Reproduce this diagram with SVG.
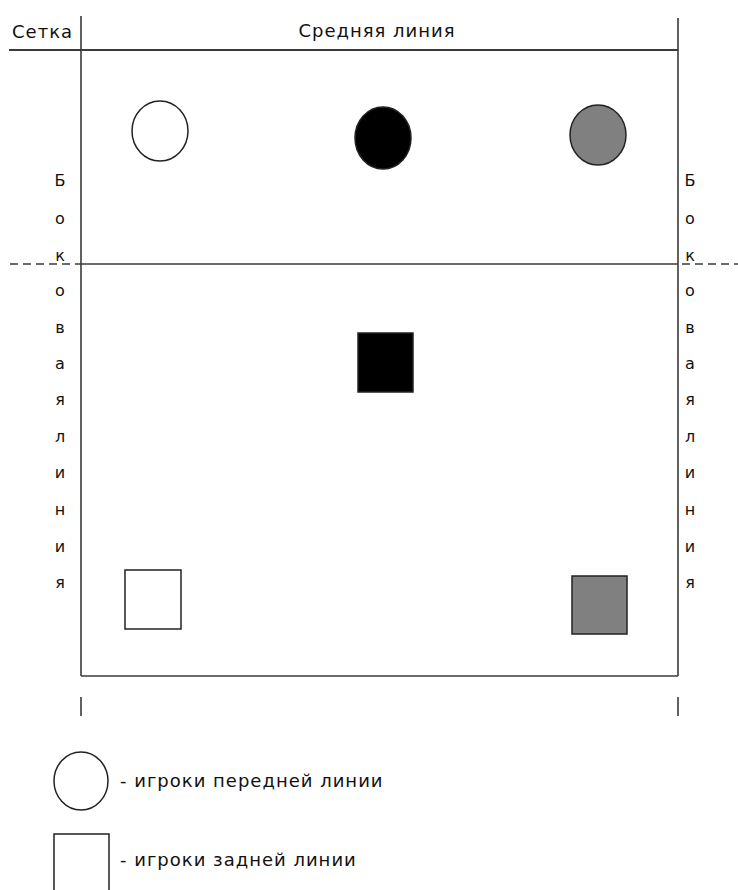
<svg xmlns="http://www.w3.org/2000/svg" width="738" height="890" viewBox="0 0 738 890">
<style>
.ln{stroke:#3a3a3a;stroke-width:1.6;fill:none}
.ds{stroke:#3a3a3a;stroke-width:1.6;stroke-dasharray:8 5;fill:none}
.t{font-family:"DejaVu Sans",sans-serif;font-size:18px;letter-spacing:1px;fill:#111}
.v{font-family:"DejaVu Sans",sans-serif;font-size:16px;fill:#111;text-anchor:middle}
.p{stroke:#222;stroke-width:1.5}
</style>
<rect width="738" height="890" fill="#fff"/>
<g id="court">
<line class="ln" x1="9" y1="50" x2="678" y2="50" style="stroke-width:2.2"/>
<line class="ln" x1="81" y1="16" x2="81" y2="676"/>
<line class="ln" x1="678" y1="18" x2="678" y2="676"/>
<line class="ln" x1="81" y1="676" x2="678" y2="676"/>
<line class="ln" x1="81" y1="264" x2="678" y2="264"/>
<line class="ds" x1="10" y1="264" x2="81" y2="264"/>
<line class="ds" x1="682" y1="264" x2="738" y2="264"/>
<line class="ln" x1="81" y1="697" x2="81" y2="716"/>
<line class="ln" x1="678" y1="697" x2="678" y2="716"/>
</g>
<g id="labels">
<text class="t" x="12" y="38">Сетка</text>
<text class="t" x="377" y="37" text-anchor="middle">Средняя линия</text>
<g id="left-side">
<text class="v" x="60" y="186">Б</text>
<text class="v" x="60" y="224">о</text>
<text class="v" x="60" y="261">к</text>
<text class="v" x="60" y="296">о</text>
<text class="v" x="60" y="333">в</text>
<text class="v" x="60" y="369">а</text>
<text class="v" x="60" y="405">я</text>
<text class="v" x="60" y="442">л</text>
<text class="v" x="60" y="478">и</text>
<text class="v" x="60" y="515">н</text>
<text class="v" x="60" y="552">и</text>
<text class="v" x="60" y="588">я</text>
</g>
<g id="right-side">
<text class="v" x="690" y="186">Б</text>
<text class="v" x="690" y="224">о</text>
<text class="v" x="690" y="261">к</text>
<text class="v" x="690" y="296">о</text>
<text class="v" x="690" y="333">в</text>
<text class="v" x="690" y="369">а</text>
<text class="v" x="690" y="405">я</text>
<text class="v" x="690" y="442">л</text>
<text class="v" x="690" y="478">и</text>
<text class="v" x="690" y="515">н</text>
<text class="v" x="690" y="552">и</text>
<text class="v" x="690" y="588">я</text>
</g>
</g>
<g id="front-white"><ellipse class="p" cx="160" cy="131" rx="28" ry="30" fill="#fff"/></g>
<g id="front-black"><ellipse class="p" cx="383" cy="138" rx="28" ry="31" fill="#000"/></g>
<g id="front-gray"><ellipse class="p" cx="598" cy="135" rx="28" ry="30" fill="#808080"/></g>
<g id="back-black"><rect class="p" x="358" y="333" width="55" height="59" fill="#000"/></g>
<g id="back-white"><rect class="p" x="125" y="570" width="56" height="59" fill="#fff"/></g>
<g id="back-gray"><rect class="p" x="572" y="576" width="55" height="58" fill="#808080"/></g>
<g id="legend">
<ellipse class="p" cx="81" cy="781" rx="27" ry="29" fill="#fff"/>
<text class="t" x="120" y="787">- игроки передней линии</text>
<rect class="p" x="54" y="834" width="55" height="58" fill="#fff"/>
<text class="t" x="120" y="866">- игроки задней линии</text>
</g>
</svg>
